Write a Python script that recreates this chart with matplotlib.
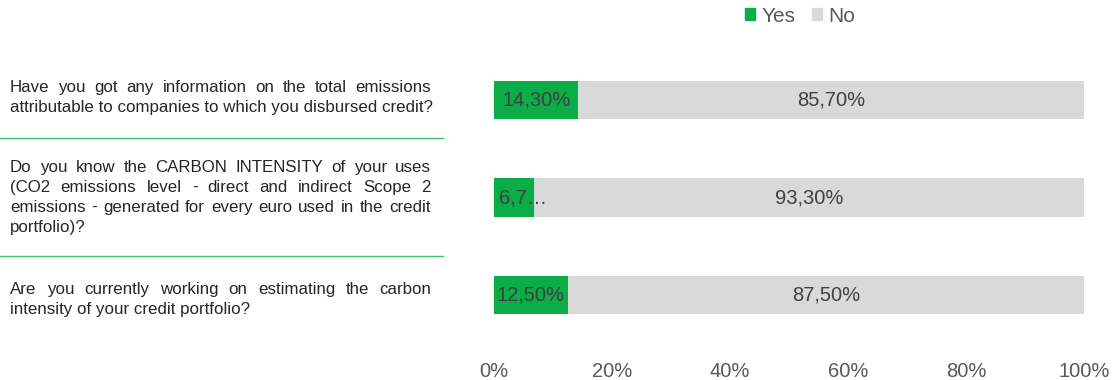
import matplotlib
matplotlib.use("Agg")
import matplotlib.pyplot as plt
from matplotlib.patches import Patch
from matplotlib.lines import Line2D
from matplotlib.transforms import blended_transform_factory
from matplotlib.ticker import PercentFormatter

plt.rcParams["font.family"] = ["Liberation Sans", "DejaVu Sans"]

# questions, already broken into the lines used in the reference
questions = [
    ["Have you got any information on the total emissions",
     "attributable to companies to which you disbursed credit?"],
    ["Do you know the CARBON INTENSITY of your uses",
     "(CO2 emissions level - direct and indirect Scope 2",
     "emissions - generated for every euro used in the credit",
     "portfolio)?"],
    ["Are you currently working on estimating the carbon",
     "intensity of your credit portfolio?"],
]
yes = [14.3, 6.7, 12.5]
no = [85.7, 93.3, 87.5]
yes_labels = ["14,30%", "6,7\u2026", "12,50%"]
no_labels = ["85,70%", "93,30%", "87,50%"]

GREEN = "#0BAD47"
GREY = "#D9D9D9"
W, H = 1114, 380

fig = plt.figure(figsize=(W / 100, H / 100), dpi=100)
ax = fig.add_axes([494 / W, 1 - 343.75 / H, 590 / W, 292.5 / H])

pos = list(range(len(yes)))
ax.barh(pos, yes, height=0.39, color=GREEN)
ax.barh(pos, no, left=yes, height=0.39, color=GREY)

for i in pos:
    if yes[i] > 10:
        ax.text(yes[i] / 2, i, yes_labels[i], ha="center", va="center",
                fontsize=14.5, color="#404040")
    else:
        ax.text(0.9, i, yes_labels[i], ha="left", va="center",
                fontsize=14.5, color="#404040")
    ax.text(yes[i] + no[i] / 2, i, no_labels[i], ha="center", va="center",
            fontsize=14.5, color="#404040")

ax.set_xlim(0, 100)
ax.set_ylim(2.5, -0.5)
ax.set_yticks([])
ax.set_xticks([0, 20, 40, 60, 80, 100])
ax.xaxis.set_major_formatter(PercentFormatter(decimals=0))
ax.tick_params(axis="x", length=0, pad=13, labelsize=14.5, labelcolor="#595959")
for s in ax.spines.values():
    s.set_visible(False)

# justified question text on the left
tr = blended_transform_factory(fig.transFigure, ax.transData)
renderer = fig.canvas.get_renderer()
x0, x1 = 10, 431
line_step = 20 / 97.5
offsets = [-0.03, 0.0, 0.05]
fs = 12.2

for i, lines in enumerate(questions):
    n = len(lines)
    for j, line in enumerate(lines):
        y = i + offsets[i] + (j - (n - 1) / 2) * line_step
        words = line.split(" ")
        if j == n - 1 or len(words) == 1:
            ax.text(x0 / W, y, line, transform=tr, ha="left", va="center",
                    fontsize=fs, color="#262626")
            continue
        arts = [ax.text(0, y, w, transform=tr, ha="left", va="center",
                        fontsize=fs, color="#262626") for w in words]
        widths = [a.get_window_extent(renderer).width for a in arts]
        gap = (x1 - x0 - sum(widths)) / (len(words) - 1)
        x = x0
        for a, wd in zip(arts, widths):
            a.set_x(x / W)
            x += wd + gap

# green separators between questions
for ysep in [0.39, 1.6]:
    fig.add_artist(Line2D([0, 443 / W], [ysep, ysep], transform=tr,
                          color="#3CC36A", lw=1))

handles = [Patch(color=GREEN, label="Yes"), Patch(color=GREY, label="No")]
fig.legend(handles=handles, loc="center", bbox_to_anchor=(800 / W, 1 - 16 / H),
           ncol=2, frameon=False, fontsize=15, handlelength=0.5, handleheight=0.5,
           handletextpad=0.3, columnspacing=0.8, labelcolor="#595959")

fig.savefig("out.png", dpi=100)
